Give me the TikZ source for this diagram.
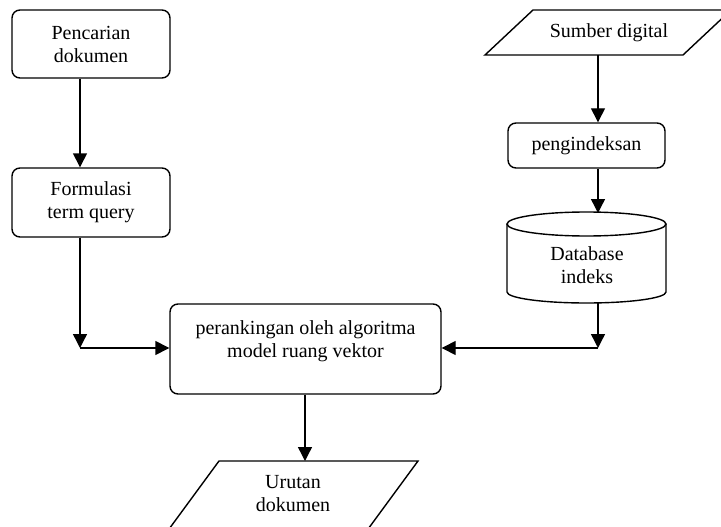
\documentclass[tikz,border=0pt]{standalone}
\usepackage{fontspec}
\setmainfont{Liberation Serif}
\usetikzlibrary{arrows.meta}
\tikzset{
  flowline/.style={line width=1.4pt},
  flowarrow/.style={flowline, -{Triangle[width=14pt,length=14pt]}},
  procbox/.style={draw, line width=1.4pt, rounded corners=8pt, align=center,
    inner sep=0pt, font=\fontsize{20}{23}\selectfont},
  label/.style={align=center, inner sep=0pt, font=\fontsize{20}{23}\selectfont},
}
\begin{document}
\begin{tikzpicture}[x=1pt, y=-1pt]
  \useasboundingbox (0,0) rectangle (721,527);
  \clip (0,0) rectangle (721,527);

  % left column
  \node[procbox, minimum width=158pt, minimum height=68pt] (pen) at (91,44) {Pencarian\\dokumen};
  \node[procbox, minimum width=158pt, minimum height=69pt] (form) at (91,202.5) {Formulasi\\term query};

  % central ranking step (text sits in the upper part of the box)
  \node[procbox, minimum width=271pt, minimum height=90pt] (rank) at (305.5,349) {};
  \node[label] (ranktxt) at (305.5,341) {perankingan oleh algoritma\\model ruang vektor};

  % right column: input parallelogram
  \draw[flowline] (485,55) -- (533,10) -- (731,10) -- (683,55) -- cycle;
  \node[label] (src) at (609,33) {Sumber digital};
  \coordinate (srcb) at (598,55);

  \node[procbox, minimum width=157pt, minimum height=45pt] (idx) at (586.5,145.5) {pengindeksan};

  % database cylinder
  \draw[flowline] (507,224) -- (507,292) arc[start angle=180, end angle=360, x radius=79.5, y radius=-11] -- (666,224);
  \draw[flowline] (586.5,224) ellipse[x radius=79.5, y radius=12];
  \node[label] (db) at (587,265) {Database\\indeks};
  \coordinate (dbt) at (598,213);
  \coordinate (dbb) at (598,303);

  % output parallelogram
  \draw[flowline] (219,461) -- (418,461) -- (360,540) -- (161,540) -- cycle;
  \node[label] (out) at (293,494) {Urutan\\dokumen};
  \coordinate (outt) at (305,461);

  % junctions
  \coordinate (lj) at (80,348);
  \coordinate (rj) at (598,348);

  % connectors
  \draw[flowarrow] (pen.south -| lj) -- (form.north -| lj);
  \draw[flowarrow] (form.south -| lj) -- (lj);
  \draw[flowarrow] (lj) -- (rank.west |- lj);
  \draw[flowarrow] (srcb) -- (idx.north -| srcb);
  \draw[flowarrow] (idx.south -| srcb) -- (dbt);
  \draw[flowarrow] (dbb) -- (rj);
  \draw[flowarrow] (rj) -- (rank.east |- rj);
  \draw[flowarrow] (rank.south -| outt) -- (outt);
\end{tikzpicture}
\end{document}
